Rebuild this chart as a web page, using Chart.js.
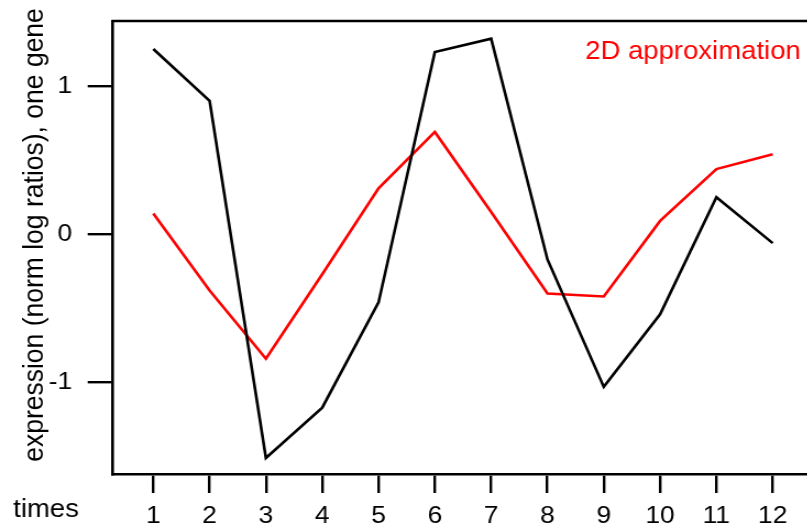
<!DOCTYPE html>
<html>
<head>
<meta charset="utf-8">
<script src="https://cdn.jsdelivr.net/npm/chart.js@4/dist/chart.umd.min.js"></script>
<style>
  html, body { margin: 0; padding: 0; background: #fff; overflow: hidden; width: 807px; height: 528px; }
  #wrap { width: 760px; height: 528px; transform: scaleX(1.1); transform-origin: 0 0; }
  canvas { display: block; }
</style>
</head>
<body>
<div id="wrap"><canvas id="c" width="760" height="528"></canvas></div>
<script>
// Time points and expression values (normalised log ratios)
const times = [1, 2, 3, 4, 5, 6, 7, 8, 9, 10, 11, 12];
const observed = [1.25, 0.90, -1.51, -1.17, -0.46, 1.23, 1.32, -0.17, -1.03, -0.54, 0.25, -0.06];
const approx2D = [0.14, -0.38, -0.84, -0.27, 0.31, 0.69, 0.15, -0.40, -0.42, 0.09, 0.44, 0.54];
const yTickValues = [-1, 0, 1];
const xTickLabels = ['1', '2', '3', '4', '5', '6', '7', '8', '9', '10', '11', '12'];
const yTitle = 'expression (norm log ratios), one gene';
const xTitle = 'times';
const approxLabel = '2D approximation';

const FONT = 'Liberation Sans, Arial, sans-serif';

// Frame line along the top of the plot area, plus free-standing texts
const decorations = {
  id: 'decorations',
  afterDraw(chart) {
    const { ctx, chartArea: a } = chart;
    ctx.save();
    ctx.strokeStyle = '#000';
    ctx.lineWidth = 2.6;
    ctx.beginPath();
    ctx.moveTo(a.left - 1.3, a.top);
    ctx.lineTo(a.right, a.top);
    ctx.lineTo(a.right, a.bottom);
    ctx.stroke();

    ctx.fillStyle = '#000';
    ctx.font = '25px ' + FONT;
    ctx.textAlign = 'left';
    ctx.textBaseline = 'alphabetic';
    ctx.fillText(xTitle, 12, 517);

    ctx.fillStyle = '#ff0000';
    ctx.fillText(chart.data.datasets[1].label, 532, 59);

    ctx.fillStyle = '#000';
    ctx.font = '26.5px ' + FONT;
    ctx.translate(39.4, 235);
    ctx.rotate(-Math.PI / 2);
    ctx.textAlign = 'center';
    ctx.fillText(yTitle, 0, 0);
    ctx.restore();
  }
};

new Chart(document.getElementById('c'), {
  type: 'line',
  data: {
    datasets: [
      {
        label: 'observed',
        data: times.map((t, i) => ({ x: t, y: observed[i] })),
        borderColor: '#000',
        borderWidth: 2.6,
        pointRadius: 0,
        tension: 0,
        fill: false
      },
      {
        label: approxLabel,
        data: times.map((t, i) => ({ x: t, y: approx2D[i] })),
        borderColor: '#ff0000',
        borderWidth: 2.6,
        pointRadius: 0,
        tension: 0,
        fill: false
      }
    ]
  },
  options: {
    responsive: false,
    animation: false,
    devicePixelRatio: 1,
    layout: { padding: { left: 0, top: 21, right: 20.9, bottom: 0 } },
    plugins: { legend: { display: false }, tooltip: { enabled: false } },
    scales: {
      x: {
        type: 'linear',
        min: 0.284,
        max: 12.716,
        afterBuildTicks: s => { s.ticks = times.map(v => ({ value: v })); },
        afterFit: s => { s.height = 54; s.paddingLeft = 0; s.paddingRight = 0; },
        ticks: {
          callback: (v) => xTickLabels[times.indexOf(v)],
          color: '#000',
          font: { family: FONT, size: 24 },
          padding: 9,
          maxRotation: 0,
          autoSkip: false
        },
        grid: { drawOnChartArea: false, drawTicks: true, tickLength: 19, color: '#000', lineWidth: 2.4 },
        border: { display: true, color: '#000', width: 2.6 }
      },
      y: {
        type: 'linear',
        min: -1.618,
        max: 1.439,
        afterBuildTicks: s => { s.ticks = yTickValues.map(v => ({ value: v })); },
        afterFit: s => { s.width = 102.7; s.paddingTop = 0; s.paddingBottom = 0; },
        ticks: {
          callback: (v) => String(v),
          color: '#000',
          font: { family: FONT, size: 24 },
          padding: 14
        },
        grid: { drawOnChartArea: false, drawTicks: true, tickLength: 23, color: '#000', lineWidth: 2.4 },
        border: { display: true, color: '#000', width: 2.6 }
      }
    }
  },
  plugins: [decorations]
});
</script>
</body>
</html>
